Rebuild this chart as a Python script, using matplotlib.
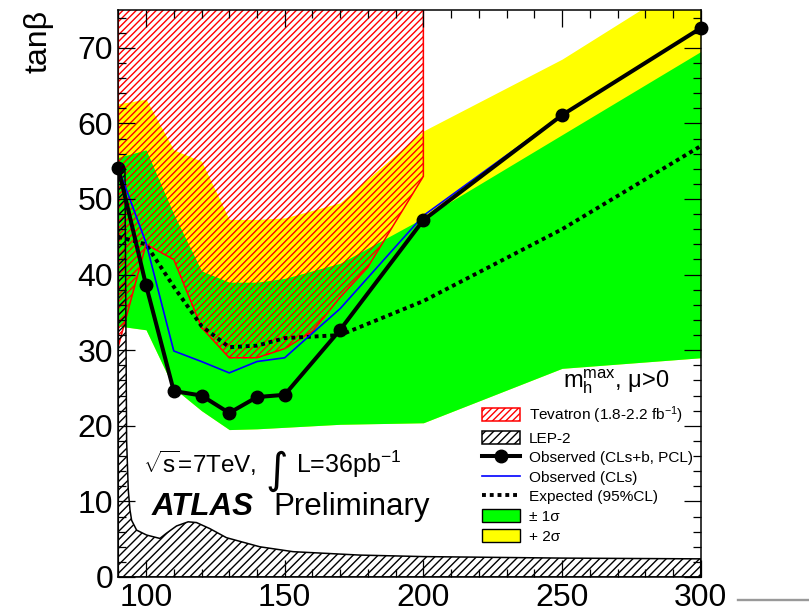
import matplotlib
matplotlib.use("Agg")
import matplotlib.pyplot as plt
from matplotlib.patches import Polygon, Patch
from matplotlib.lines import Line2D
from matplotlib.ticker import MultipleLocator
import numpy as np

plt.rcParams['font.family'] = ['Liberation Sans', 'DejaVu Sans']
plt.rcParams['mathtext.fontset'] = 'custom'
plt.rcParams['mathtext.rm'] = 'Liberation Sans'
plt.rcParams['mathtext.it'] = 'Liberation Sans:italic'
plt.rcParams['mathtext.bf'] = 'Liberation Sans:bold'
plt.rcParams['hatch.linewidth'] = 1.0

# m_A grid points [GeV]
mA = [90, 100, 110, 120, 130, 140, 150, 170, 200, 250, 300]

# observed limits
obs_pcl = [54.1, 38.6, 24.6, 24.0, 21.7, 23.8, 24.1, 32.7, 47.2, 61.1, 72.6]
obs_cls = [54.1, 44.2, 29.9, 28.5, 27.0, 28.5, 29.0, 35.5, 47.8, 61.1, 72.6]

# expected limit and bands
expected = [45.0, 44.0, 38.4, 33.2, 30.4, 30.6, 31.6, 32.0, 36.5, 46.0, 57.0]
sig1_lo = [33.2, 32.7, 25.0, 22.0, 19.5, 19.6, 19.8, 20.2, 20.4, 27.6, 29.0]
sig1_hi = [55.5, 56.5, 48.0, 40.5, 39.0, 39.0, 39.5, 41.5, 47.5, 58.5, 69.5]
sig2_hi = [62.6, 63.2, 56.5, 55.0, 47.3, 47.3, 47.5, 49.5, 59.0, 68.5, 80.0]

# Tevatron excluded region (lower edge, closed at the top)
tev_x = [90, 100, 110, 120, 130, 140, 150, 160, 170, 180, 190, 200, 200, 90]
tev_y = [30.5, 44.0, 42.0, 33.0, 29.0, 29.0, 30.2, 32.5, 37.0, 41.0, 47.0, 53.0, 80.0, 80.0]

# LEP-2 excluded region (upper edge)
lep_x = [90, 90, 92.4, 92.8, 93.0, 93.6, 94.2, 94.8, 96.6, 100.2, 105.0, 107.4,
         111.0, 115.2, 118.2, 123.0, 129.0, 141.0, 153.0, 177.0, 200.0, 250.0, 300.0, 300.0]
lep_y = [0, 54.0, 54.0, 30.0, 18.0, 11.5, 8.9, 7.5, 6.2, 5.55, 5.1, 5.8,
         6.75, 7.3, 7.2, 6.4, 5.2, 4.0, 3.35, 2.9, 2.7, 2.5, 2.4, 0]

W, H = 809, 611
fig = plt.figure(figsize=(W / 100, H / 100), dpi=100)
ax = fig.add_axes([118.3 / W, 34 / H, (700.7 - 118.3) / W, (577 - 10) / H])

ax.fill_between(mA, sig1_lo, sig2_hi, color='#ffff00', lw=0, zorder=1)
ax.fill_between(mA, sig1_lo, sig1_hi, color='#00ff00', lw=0, zorder=2)

ax.add_patch(Polygon(np.column_stack([tev_x, tev_y]), closed=True, facecolor='none',
                     edgecolor='red', hatch='/////', lw=1.1, zorder=3))
ax.add_patch(Polygon(np.column_stack([lep_x, lep_y]), closed=True, facecolor='none',
                     edgecolor='black', hatch='////', lw=1.1, zorder=3.5))

ax.plot(mA, expected, color='black', lw=2.8, ls=(0, (1, 1)), dash_capstyle='butt', zorder=4)
ax.plot(mA, obs_cls, color='blue', lw=1.2, zorder=5)
ax.plot(mA, obs_pcl, color='black', lw=2.9, marker='o', ms=9, zorder=6, clip_on=False)

ax.set_xlim(90, 300)
ax.set_ylim(0, 75)
ax.xaxis.set_major_locator(MultipleLocator(50))
ax.xaxis.set_minor_locator(MultipleLocator(10))
ax.yaxis.set_major_locator(MultipleLocator(10))
ax.yaxis.set_minor_locator(MultipleLocator(2))
ax.tick_params(which='both', direction='in', top=True, right=True, width=0.9,
               labelsize=23)
ax.tick_params(which='major', length=12)
ax.tick_params(which='minor', length=6)
ax.tick_params(axis='y', pad=3.6)
ax.tick_params(axis='x', pad=4.0)
ax.xaxis.set_zorder(10)
ax.yaxis.set_zorder(10)
for sp in ax.spines.values():
    sp.set_linewidth(1.1)
    sp.set_zorder(10)

fig.text(38 / W, 1 - 10 / H, 'tanβ', rotation=90, ha='center', va='top', fontsize=23)

handles = [
    Patch(facecolor='white', edgecolor='red', hatch='/////', lw=1.1),
    Patch(facecolor='white', edgecolor='black', hatch='////', lw=1.1),
    Line2D([], [], color='black', lw=2.9, marker='o', ms=9),
    Line2D([], [], color='blue', lw=1.2),
    Line2D([], [], color='black', lw=2.8, ls=(0, (1, 1))),
    Patch(facecolor='#00ff00', edgecolor='black', lw=1),
    Patch(facecolor='#ffff00', edgecolor='black', lw=1),
]
labels = ['Tevatron (1.8-2.2 fb$^{-1}$)', 'LEP-2', 'Observed (CLs+b, PCL)',
          'Observed (CLs)', 'Expected (95%CL)', '± 1σ', '+ 2σ']
ax.legend(handles, labels, loc='upper left', bbox_to_anchor=(481.7 / W, 1 - 404.5 / H),
          bbox_transform=fig.transFigure, frameon=False, borderpad=0, borderaxespad=0,
          fontsize=11.1, handlelength=2.5, handleheight=0.95, handletextpad=0.55,
          labelspacing=0.3, numpoints=1)

fig.text(562.7 / W, 1 - 387 / H, r'm$_{\mathrm{h}}^{\mathrm{max}}$, μ>0', fontsize=17,
         va='baseline')
fig.text(143.3 / W, 1 - 473.3 / H, r'$\sqrt{\mathrm{s}}$=7TeV,', fontsize=17.5, va='baseline')
fig.text(276.5 / W, 1 - 471 / H, '∫', family='DejaVu Sans', fontsize=31,
         ha='center', va='center')
fig.text(295.7 / W, 1 - 473.3 / H, 'L=36pb$^{-1}$', fontsize=18, va='baseline')
fig.text(151.7 / W, 1 - 515 / H, 'ATLAS', fontsize=22.5, weight='bold', style='italic',
         va='baseline')
fig.text(273.3 / W, 1 - 515 / H, 'Preliminary', fontsize=22.5, va='baseline')

fig.add_artist(Line2D([738 / W, 1.0], [1 - 599.5 / H, 1 - 599.5 / H],
                      color='#999999', lw=1.7, transform=fig.transFigure))

fig.savefig('out.png', dpi=100)
